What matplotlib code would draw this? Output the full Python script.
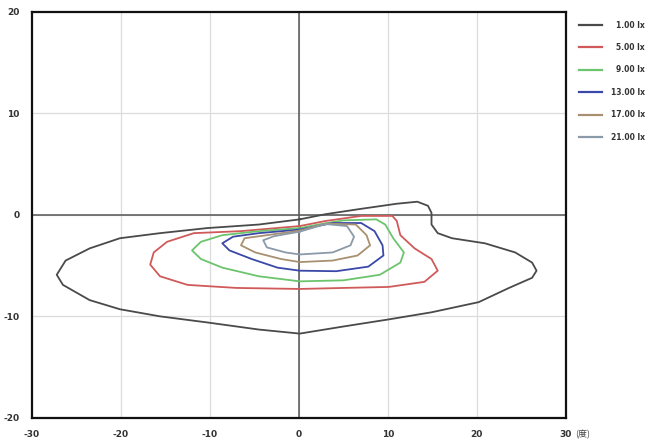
import matplotlib
matplotlib.use("Agg")
import matplotlib.pyplot as plt
from matplotlib.lines import Line2D

# isolux contour levels and colours
levels = ["1.00 lx", "5.00 lx", "9.00 lx", "13.00 lx", "17.00 lx", "21.00 lx"]
colors = ["#4a4a4a", "#d05a5a", "#6cc46c", "#3a48a8", "#a89070", "#8a9aa8"]

# contour outlines (x in degrees, y in degrees)
c1_x = [0.1, 3.0, 7.0, 11.0, 13.3, 14.5, 14.9, 14.9, 15.6, 17.2, 20.9, 24.3, 26.2, 26.7,
        26.2, 23.6, 20.2, 14.9, 10.1, 5.0, 0.1, -4.5, -10.3, -15.6, -20.1, -23.5,
        -26.5, -27.2, -26.2, -23.5, -20.1, -15.6, -10.3, -4.5, 0.1]
c1_y = [-0.44, 0.07, 0.6, 1.1, 1.3, 0.9, 0.2, -0.95, -1.8, -2.3, -2.8, -3.7, -4.7, -5.5,
        -6.2, -7.2, -8.6, -9.6, -10.3, -11.0, -11.7, -11.3, -10.6, -10.0, -9.3, -8.4,
        -6.9, -5.9, -4.5, -3.3, -2.3, -1.8, -1.3, -0.95, -0.44]

c5_x = [0.1, 3.0, 7.0, 10.5, 11.0, 11.4, 13.0, 14.9, 15.6, 14.1, 10.1, 5.0, 0.1,
        -7.0, -12.5, -15.6, -16.7, -16.3, -14.8, -11.8, -6.5, 0.1]
c5_y = [-1.1, -0.6, -0.1, -0.1, -0.6, -2.0, -3.3, -4.35, -5.5, -6.6, -7.1, -7.2, -7.3,
        -7.2, -6.9, -6.05, -4.9, -3.7, -2.65, -1.8, -1.6, -1.1]

c9_x = [0.1, 2.2, 5.0, 8.7, 9.7, 10.6, 11.8, 11.4, 9.1, 5.0, 0.1, -4.5, -8.6, -11.0,
        -12.0, -11.0, -8.6, -4.5, 0.1]
c9_y = [-1.3, -0.95, -0.54, -0.44, -0.95, -2.3, -3.7, -4.7, -5.9, -6.45, -6.55, -6.05,
        -5.2, -4.35, -3.5, -2.65, -2.0, -1.6, -1.3]

c13_x = [0.1, 3.8, 7.0, 8.5, 9.4, 9.5, 7.8, 4.2, 0.1, -2.4, -5.3, -7.8, -8.6, -7.4,
         -4.5, 0.1]
c13_y = [-1.45, -0.8, -0.8, -1.6, -3.0, -4.0, -5.1, -5.55, -5.5, -5.2, -4.35, -3.5,
         -2.8, -2.15, -1.8, -1.45]

c17_x = [0.1, 3.0, 6.4, 7.6, 8.0, 6.6, 3.8, 0.1, -2.0, -4.9, -6.5, -6.1, -3.6, 0.1]
c17_y = [-1.55, -0.85, -0.95, -2.0, -3.0, -4.0, -4.5, -4.65, -4.35, -3.7, -3.0, -2.3,
         -2.0, -1.55]

c21_x = [0.1, 3.0, 5.4, 6.2, 5.8, 3.8, 0.1, -1.5, -3.6, -4.0, -2.8, 0.1]
c21_y = [-1.65, -0.9, -1.1, -2.15, -3.0, -3.7, -3.9, -3.7, -3.2, -2.5, -2.1, -1.65]

xs = [c1_x, c5_x, c9_x, c13_x, c17_x, c21_x]
ys = [c1_y, c5_y, c9_y, c13_y, c17_y, c21_y]

xticks = [-30, -20, -10, 0, 10, 20, 30]
yticks = [-20, -10, 0, 10, 20]

fig = plt.figure(figsize=(6.49, 4.44), dpi=100)
ax = fig.add_axes([0.049, 0.059, 0.823, 0.914])

for gx in xticks[1:-1]:
    ax.axvline(gx, color="#dcdcdc", lw=0.9, zorder=0)
for gy in yticks[1:-1]:
    ax.axhline(gy, color="#dcdcdc", lw=0.9, zorder=0)
ax.axvline(0, color="#555555", lw=1.1, zorder=1)
ax.axhline(0, color="#555555", lw=1.1, zorder=1)

for x, y, c in zip(xs, ys, colors):
    ax.plot(x, y, color=c, lw=1.3, zorder=2)

ax.set_xlim(-30, 30)
ax.set_ylim(-20, 20)
ax.set_xticks(xticks)
ax.set_yticks(yticks)
ax.set_xticklabels([str(t) for t in xticks], fontweight="bold", fontsize=6.5,
                   color="#333333")
ax.set_yticklabels([str(t) for t in yticks], fontweight="bold", fontsize=6.5,
                   color="#333333")
ax.tick_params(length=0, pad=9)
for s in ax.spines.values():
    s.set_linewidth(1.6)
    s.set_color("#111111")

# unit after the last x tick
ax.text(31.0, -21.6, "(度)", fontsize=6.5, color="#444444", va="center", ha="left",
        family=["Noto Sans CJK SC", "DejaVu Sans"], clip_on=False)

# legend drawn by hand at the right side
for i, (c, lab) in enumerate(zip(colors, levels)):
    yy = 1 - (25 + 22.4 * i) / 444
    fig.add_artist(Line2D([579 / 649, 602 / 649], [yy, yy], color=c, lw=1.6,
                          transform=fig.transFigure))
    fig.text(645 / 649, yy, lab, ha="right", va="center", fontsize=5.5,
             fontweight="bold", color="#333333")

fig.savefig("out.png", dpi=100)
